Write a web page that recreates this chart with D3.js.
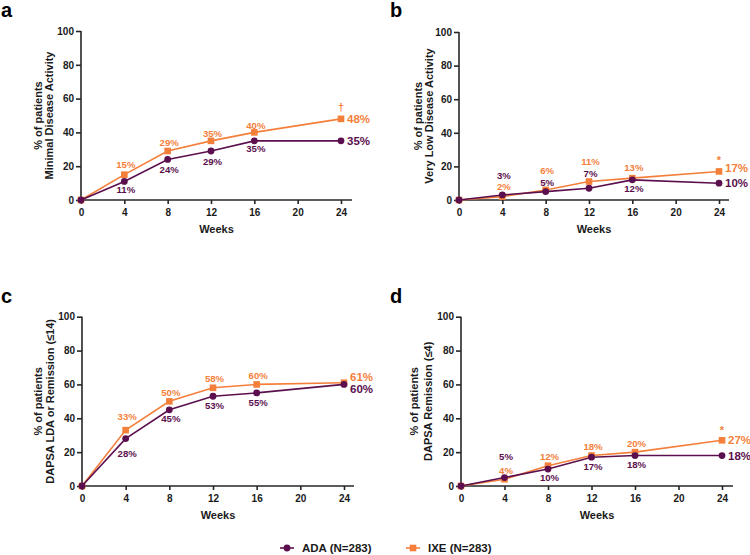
<!DOCTYPE html>
<html>
<head>
<meta charset="utf-8">
<script src="https://cdn.jsdelivr.net/npm/d3@7"></script>
<style>
  html, body { margin: 0; padding: 0; background: #fff; }
  svg { display: block; font-family: "Liberation Sans", Arial, sans-serif; font-weight: bold; }
</style>
</head>
<body>
<svg id="chart" width="750" height="555"></svg>
<script>
// ---------- data ----------
const weeks = [0, 4, 8, 12, 16, 24];
const xTicks = [0, 4, 8, 12, 16, 20, 24];
const yTicks = [0, 20, 40, 60, 80, 100];
const seriesNames = ["ADA (N=283)", "IXE (N=283)"];

const adaMDA  = [0, 11, 24, 29, 35, 35];
const ixeMDA  = [0, 15, 29, 35, 40, 48];
const adaVLDA = [0, 3, 5, 7, 12, 10];
const ixeVLDA = [0, 2, 6, 11, 13, 17];
const adaLDA  = [0, 28, 45, 53, 55, 60];
const ixeLDA  = [0, 33, 50, 58, 60, 61];
const adaRem  = [0, 5, 10, 17, 18, 18];
const ixeRem  = [0, 4, 12, 18, 20, 27];

const panelLetters = ["a", "b", "c", "d"];
const yTitleLine1 = "% of patients";
const yTitles = ["Minimal Disease Activity", "Very Low Disease Activity",
                 "DAPSA LDA or Remission (\u226414)", "DAPSA Remission (\u22644)"];
const significance = ["\u2020", "*", "", "*"];
const xTitle = "Weeks";

// ---------- layout (positions only) ----------
const colors = { ada: "#5b0f4e", ixe: "#f47f3b", axis: "#262626", text: "#1a1a1a" };
const layout = [
  { x0: 81,  x24: 341, y0: 200, y100: 31,    axEnd: 352, t1: 37.7,  t2: 49.3,  lx: 1,   ly: 17 },
  { x0: 459, x24: 719, y0: 200, y100: 32,    axEnd: 729, t1: 417.7, t2: 429.3, lx: 390, ly: 17 },
  { x0: 82,  x24: 344, y0: 486, y100: 316.7, axEnd: 354, t1: 37.7,  t2: 50,    lx: 1,   ly: 303 },
  { x0: 461, x24: 722, y0: 486, y100: 316.7, axEnd: 733, t1: 414.3, t2: 428.3, lx: 390, ly: 303 }
];
// label vertical offsets (px) for weeks 4..16, then end label, then significance mark
const ixeLabelDy = [[-10, -8, -7, -7], [-10, -19, -19.5, -10.5], [-13, -9, -9, -8.5], [-8.5, -9, -9, -8.5]];
const adaLabelDy = [[8, 10, 11, 8], [-19, -9, -15, 9], [15.5, 9, 9.5, 9.5], [-20.5, 9, 9, 9.5]];
const ixeEndDy = [0, -3, -6, 0];
const adaEndDy = [0, 0, 5, 0];
const markDy = [-11.5, -11, 0, -10];

const panels = [
  { ada: adaMDA,  ixe: ixeMDA },
  { ada: adaVLDA, ixe: ixeVLDA },
  { ada: adaLDA,  ixe: ixeLDA },
  { ada: adaRem,  ixe: ixeRem }
];

const svg = d3.select("#chart");

panels.forEach((p, i) => {
  const L = layout[i];
  const x = d3.scaleLinear().domain([0, 24]).range([L.x0, L.x24]);
  const y = d3.scaleLinear().domain([0, 100]).range([L.y0, L.y100]);
  const g = svg.append("g");

  // panel letter
  g.append("text").attr("x", L.lx).attr("y", L.ly)
    .attr("font-size", 20).attr("fill", "#000").text(panelLetters[i]);

  // y axis
  const yAx = g.append("g").attr("transform", `translate(${L.x0},0)`)
    .call(d3.axisLeft(y).tickValues(yTicks).tickSize(5).tickPadding(2).tickFormat(d3.format("d")));
  // x axis
  const xAx = g.append("g").attr("transform", `translate(0,${L.y0})`)
    .call(d3.axisBottom(x).tickValues(xTicks).tickSize(4).tickPadding(5).tickFormat(d3.format("d")));
  xAx.select(".domain").attr("d", `M${L.x0},0H${L.axEnd}`);
  yAx.select(".domain").attr("d", `M0,${L.y100}V${L.y0}`);
  [xAx, yAx].forEach(ax => {
    ax.selectAll(".domain, .tick line").attr("stroke", colors.axis).attr("stroke-width", 1.6);
    ax.selectAll(".tick text").attr("font-size", 10).attr("font-weight", "bold")
      .attr("fill", colors.text).attr("font-family", "Liberation Sans, Arial, sans-serif");
  });

  // titles
  g.append("text").attr("x", (L.x0 + L.axEnd) / 2).attr("y", L.y0 + 29).attr("dy", "0.35em")
    .attr("text-anchor", "middle").attr("font-size", 11).attr("fill", colors.text).text(xTitle);
  const yc = (L.y0 + L.y100) / 2;
  g.append("text").attr("transform", `translate(${L.t1},${yc}) rotate(-90)`).attr("dy", "0.35em")
    .attr("text-anchor", "middle").attr("font-size", 11).attr("fill", colors.text).text(yTitleLine1);
  g.append("text").attr("transform", `translate(${L.t2},${yc}) rotate(-90)`).attr("dy", "0.35em")
    .attr("text-anchor", "middle").attr("font-size", 11).attr("fill", colors.text).text(yTitles[i]);

  const line = d3.line().x((d, j) => x(weeks[j])).y(d => y(d));

  // IXE (drawn first)
  g.append("path").datum(p.ixe).attr("d", line).attr("fill", "none")
    .attr("stroke", colors.ixe).attr("stroke-width", 1.6);
  g.selectAll(null).data(p.ixe).enter().append("rect")
    .attr("x", (d, j) => x(weeks[j]) - 3.3).attr("y", d => y(d) - 3.3)
    .attr("width", 6.6).attr("height", 6.6).attr("fill", colors.ixe);
  // ADA
  g.append("path").datum(p.ada).attr("d", line).attr("fill", "none")
    .attr("stroke", colors.ada).attr("stroke-width", 1.6);
  g.selectAll(null).data(p.ada).enter().append("circle")
    .attr("cx", (d, j) => x(weeks[j])).attr("cy", d => y(d)).attr("r", 3.4).attr("fill", colors.ada);

  // intermediate labels
  [["ixe", ixeLabelDy[i]], ["ada", adaLabelDy[i]]].forEach(([key, dys]) => {
    p[key].forEach((v, j) => {
      if (j === 0 || j === weeks.length - 1) return;
      g.append("text").attr("x", x(weeks[j]) + 1.5).attr("y", y(v) + dys[j - 1]).attr("dy", "0.35em")
        .attr("text-anchor", "middle").attr("font-size", 9.6).attr("fill", colors[key]).text(v + "%");
    });
  });
  // end labels
  const last = weeks.length - 1;
  g.append("text").attr("x", x(weeks[last]) + 6).attr("y", y(p.ixe[last]) + ixeEndDy[i]).attr("dy", "0.35em")
    .attr("font-size", 11.5).attr("fill", colors.ixe).text(p.ixe[last] + "%");
  g.append("text").attr("x", x(weeks[last]) + 6).attr("y", y(p.ada[last]) + adaEndDy[i]).attr("dy", "0.35em")
    .attr("font-size", 11.5).attr("fill", colors.ada).text(p.ada[last] + "%");
  if (significance[i]) {
    g.append("text").attr("x", x(weeks[last])).attr("y", y(p.ixe[last]) + markDy[i]).attr("dy", "0.35em")
      .attr("text-anchor", "middle").attr("font-size", 11).attr("fill", colors.ixe).text(significance[i]);
  }
});

// legend
const legend = [
  { name: seriesNames[0], key: "ada", mx: 287, tx: 302 },
  { name: seriesNames[1], key: "ixe", mx: 413, tx: 428 }
];
const ly = 548;
legend.forEach(l => {
  const g = svg.append("g");
  g.append("line").attr("x1", l.mx - 7).attr("x2", l.mx + 7).attr("y1", ly).attr("y2", ly)
    .attr("stroke", colors[l.key]).attr("stroke-width", 1.6);
  if (l.key === "ada") g.append("circle").attr("cx", l.mx).attr("cy", ly).attr("r", 3.4).attr("fill", colors.ada);
  else g.append("rect").attr("x", l.mx - 3.3).attr("y", ly - 3.3).attr("width", 6.6).attr("height", 6.6).attr("fill", colors.ixe);
  g.append("text").attr("x", l.tx).attr("y", ly).attr("dy", "0.35em").attr("font-size", 11.5)
    .attr("fill", colors.text).text(l.name);
});
</script>
</body>
</html>
